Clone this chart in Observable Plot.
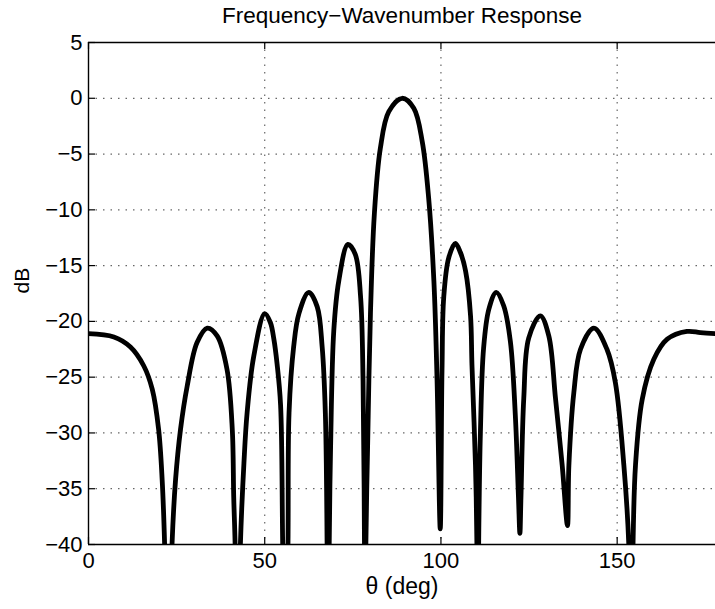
<!DOCTYPE html>
<html><head><meta charset="utf-8">
<script src="https://cdn.jsdelivr.net/npm/d3@7"></script>
<script src="https://cdn.jsdelivr.net/npm/@observablehq/plot@0.6"></script>
<style>html,body{margin:0;padding:0;background:#fff;} svg{display:block}</style>
</head><body><div id="chart"></div>
<script>
const title = "Frequency\u2212Wavenumber Response";
const xLabel = "\u03b8 (deg)";
const yLabel = "dB";
const xTicks = [0, 50, 100, 150];
const yTicks = [5, 0, -5, -10, -15, -20, -25, -30, -35, -40];
const xGrid = [50, 100, 150];
const yGrid = [0, -5, -10, -15, -20, -25, -30, -35];

// traced response (deg, dB); values below -40 are nulls leaving the frame
const thetaDeg = [
  0, 7.2, 11.9, 15.7, 18.1, 19.9, 20.9, 21.6, 22.6,
  23.7, 24.7, 26.1, 28.0, 30.8, 33.7, 36.5, 39.3, 40.8, 41.2, 41.6, 42.3,
  43.1, 44.1, 45.0, 46.9, 50.0, 51.6, 52.6, 53.5, 54.5, 55.1, 55.85,
  56.6, 56.9, 58.2, 59.7, 62.5, 64.9, 66.3, 67.2, 67.7, 68.0,
  68.3, 68.7, 69.6, 71.0, 73.6, 75.7, 77.2, 77.9, 78.3, 78.5,
  78.7, 79.2, 80.0, 81.1, 82.8, 85.2, 89.0, 92.3, 94.7, 96.5, 98.0, 98.9, 99.8,
  100.3, 100.8, 102.2, 104.1, 105.5, 107.0, 108.4, 108.8, 109.8, 110.2, 110.45,
  110.7, 111.2, 112.1, 113.6, 115.7, 117.8, 119.7, 121.1, 122.0, 122.4,
  122.7, 123.5, 124.9, 128.2, 130.6, 132.5, 134.4, 135.9,
  136.3, 137.7, 139.6, 143.4, 147.1, 149.5, 151.9, 153.3, 153.9,
  154.5, 155.2, 157.1, 160.4, 164.2, 169.8, 173.6, 177.9
];
const responseDb = [
  -21.1, -21.4, -22.3, -24.0, -26.1, -29.7, -34.2, -40, -55,
  -40, -34.2, -29.7, -25.8, -21.9, -20.6, -21.3, -24.3, -29.7, -35.7, -40, -55,
  -40, -32.7, -28.2, -23.1, -19.3, -20.1, -21.6, -23.8, -27.5, -40, -55,
  -40, -28.2, -22.3, -19.3, -17.4, -18.7, -22.3, -28.2, -40, -55,
  -40, -31.1, -20.8, -16.4, -13.1, -14.0, -17.8, -25.3, -40, -55,
  -40, -31.1, -19.3, -10.4, -4.5, -1.2, 0.0, -0.9, -3.9, -8.9, -16.4, -25.3, -38.6,
  -24.4, -17.8, -14.3, -13.0, -13.8, -15.5, -19.5, -23.9, -32.9, -40, -55,
  -40, -29.9, -22.4, -18.9, -17.4, -18.6, -21.8, -28.4, -35.8, -39.0,
  -35.8, -26.9, -21.5, -19.5, -21.3, -26.9, -32.9, -38.3,
  -32.9, -26.4, -22.5, -20.6, -22.5, -25.5, -32.9, -40, -55,
  -40, -32.9, -27.0, -23.4, -21.6, -20.9, -21.0, -21.1
];
const data = thetaDeg.map((t, i) => ({theta: t, db: responseDb[i]}));

const W = 715, H = 609;
const mL = 88, mR = 0, mT = 42, mB = 65;
const frameW = W - mL - mR, frameH = H - mT - mB;
const font = "'Liberation Sans', Arial, Helvetica, sans-serif";
const ink = "#000";

const chart = Plot.plot({
  width: W, height: H,
  marginLeft: mL, marginRight: mR, marginTop: mT, marginBottom: mB,
  style: {fontFamily: font, fontSize: "22px", background: "#fff", color: ink, overflow: "visible"},
  x: {domain: [0, 177.9]},
  y: {domain: [-40, 5]},
  marks: [
    Plot.gridX(xGrid, {stroke: ink, strokeOpacity: 0.6, strokeDasharray: "1.5,6", strokeWidth: 1.2}),
    Plot.gridY(yGrid, {stroke: ink, strokeOpacity: 0.6, strokeDasharray: "1.5,6", strokeWidth: 1.2}),
    Plot.line(data, {x: "theta", y: "db", stroke: ink, strokeWidth: 4.8, curve: "catmull-rom",
      clip: true, strokeLinejoin: "round", strokeLinecap: "round"}),
    Plot.ruleX([0], {stroke: ink, strokeWidth: 1.4}),
    Plot.ruleY([5, -40], {stroke: ink, strokeWidth: 1.4}),
    Plot.tickX(xTicks, {x: d => d, insetTop: frameH - 7, stroke: ink, strokeWidth: 1.2}),
    Plot.tickX(xTicks, {x: d => d, insetBottom: frameH - 7, stroke: ink, strokeWidth: 1.2}),
    Plot.tickY(yTicks, {y: d => d, insetRight: frameW - 7, stroke: ink, strokeWidth: 1.2}),
    Plot.axisX(xTicks, {tickSize: 0, tickPadding: 8, fontSize: 22, label: null}),
    Plot.axisY(yTicks, {tickSize: 0, tickPadding: 6, fontSize: 22, label: null}),
    Plot.text([title], {frameAnchor: "top", dy: -27, lineAnchor: "middle", fontSize: 22.5}),
    Plot.text([xLabel], {frameAnchor: "bottom", dy: 42, lineAnchor: "middle", fontSize: 23}),
    Plot.text([yLabel], {frameAnchor: "left", dx: -66, rotate: -90, lineAnchor: "middle", fontSize: 21})
  ]
});
document.getElementById("chart").appendChild(chart);
</script>
</body></html>
